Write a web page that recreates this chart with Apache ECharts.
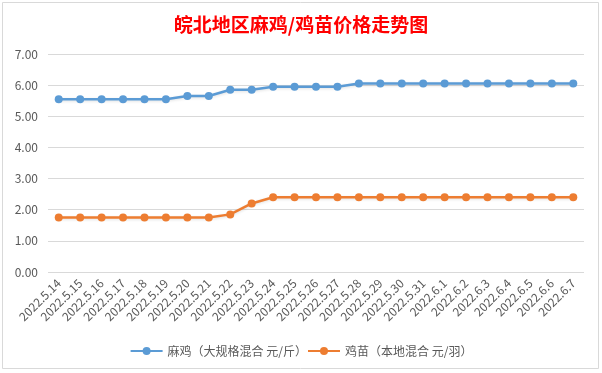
<!DOCTYPE html>
<html><head><meta charset="utf-8">
<script src="https://cdn.jsdelivr.net/npm/echarts@6/dist/echarts.min.js"></script>
<style>html,body{margin:0;padding:0;background:#fff}#c{width:602px;height:373px}</style>
</head><body><div id="c"></div>
<script>
var categories = ['2022.5.14','2022.5.15','2022.5.16','2022.5.17','2022.5.18','2022.5.19','2022.5.20','2022.5.21','2022.5.22','2022.5.23','2022.5.24','2022.5.25','2022.5.26','2022.5.27','2022.5.28','2022.5.29','2022.5.30','2022.5.31','2022.6.1','2022.6.2','2022.6.3','2022.6.4','2022.6.5','2022.6.6','2022.6.7'];
var maji = [5.55,5.55,5.55,5.55,5.55,5.55,5.65,5.65,5.85,5.85,5.95,5.95,5.95,5.95,6.05,6.05,6.05,6.05,6.05,6.05,6.05,6.05,6.05,6.05,6.05];
var jimiao = [1.75,1.75,1.75,1.75,1.75,1.75,1.75,1.75,1.85,2.2,2.4,2.4,2.4,2.4,2.4,2.4,2.4,2.4,2.4,2.4,2.4,2.4,2.4,2.4,2.4];
var seriesNames = ['麻鸡（大规格混合 元/斤）','鸡苗（本地混合 元/羽）'];
var chart = echarts.init(document.getElementById('c'));
var font = 'Microsoft YaHei, "Noto Sans CJK SC", sans-serif';
function mk(name, data, color){
  return {name:name,type:'line',data:data,symbol:'circle',symbolSize:8,
    itemStyle:{color:color},
    lineStyle:{width:2.5,color:color,shadowColor:'rgba(0,0,0,0.12)',shadowBlur:3,shadowOffsetY:1}};
}
chart.setOption({
  animation:false,
  backgroundColor:'#fff',
  graphic:[{type:'rect',shape:{x:2.5,y:2.5,width:596,height:366},style:{fill:'none',stroke:'#D9D9D9',lineWidth:1},silent:true}],
  title:{text:'皖北地区麻鸡/鸡苗价格走势图',left:'center',top:10,
    textStyle:{color:'#FF0000',fontSize:19,fontWeight:'bold',fontFamily:'"Noto Sans CJK SC", serif'}},
  grid:{left:48,right:18,top:54,bottom:101},
  legend:{bottom:11,left:'center',itemGap:0,itemWidth:32,itemHeight:10,
    textStyle:{color:'#595959',fontSize:12,fontFamily:font}},
  xAxis:{type:'category',data:categories,boundaryGap:true,
    axisLine:{show:false},axisTick:{show:false},
    axisLabel:{rotate:45,interval:0,color:'#595959',fontSize:12,fontFamily:font,margin:9}},
  yAxis:{type:'value',min:0,max:7,interval:1,
    axisLine:{show:false},axisTick:{show:false},
    splitLine:{lineStyle:{color:'#D9D9D9',width:1}},
    axisLabel:{formatter:function(v){return v.toFixed(2);},color:'#595959',fontSize:12,fontFamily:font,margin:10}},
  series:[mk(seriesNames[0],maji,'#5B9BD5'),mk(seriesNames[1],jimiao,'#ED7D31')]
});
</script></body></html>
